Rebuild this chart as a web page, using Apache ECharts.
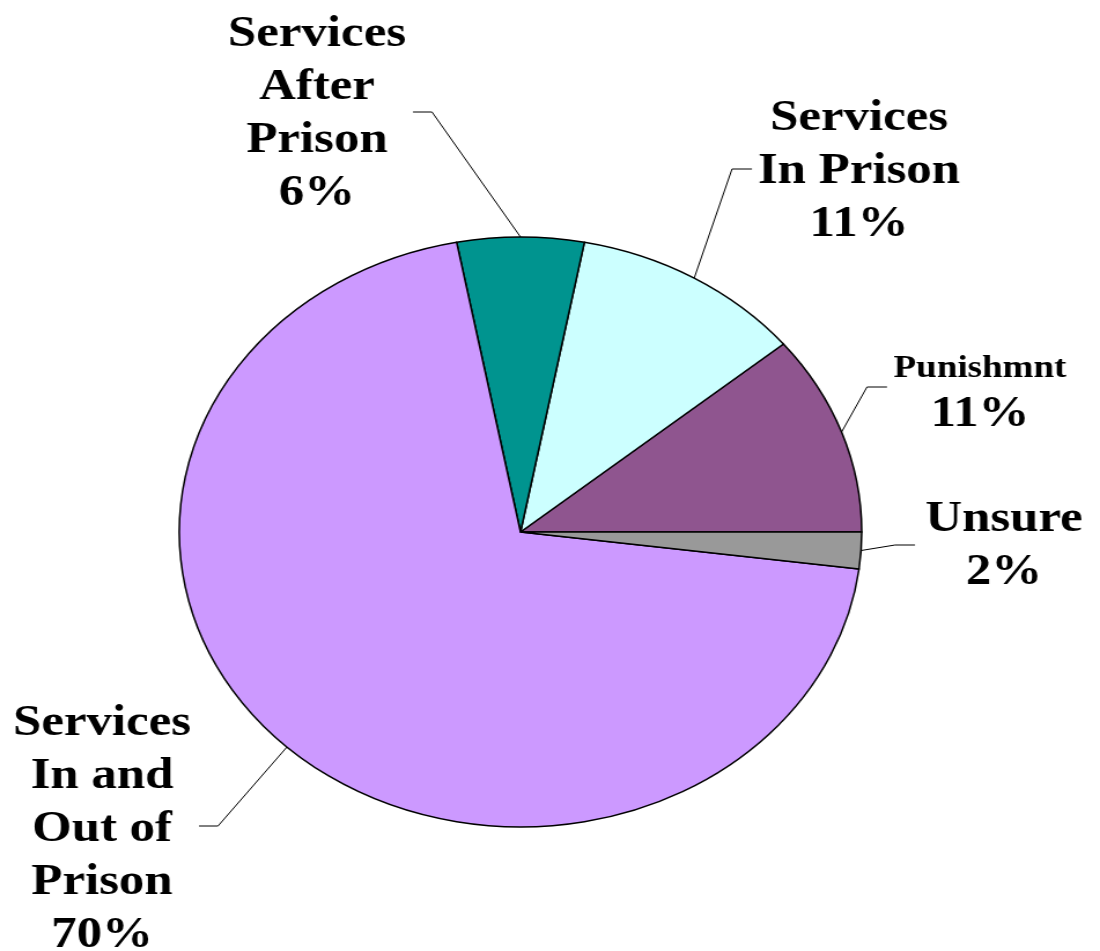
<!DOCTYPE html>
<html>
<head>
<meta charset="utf-8">
<script src="https://cdn.jsdelivr.net/npm/echarts@6/dist/echarts.min.js"></script>
<style>
    html, body { margin: 0; padding: 0; background: #fff; overflow: hidden; }
    /* the picture is a square chart stretched wide, so draw it square and stretch it */
    #pie-chart { width: 951px; height: 951px; transform: scaleX(1.156677); transform-origin: 0 0; }
</style>
</head>
<body>
<div id="pie-chart"></div>
<script>
const categories = ['Punishmnt', 'Services\nIn Prison', 'Services\nAfter\nPrison', 'Services\nIn and\nOut of\nPrison', 'Unsure'];
const values = [11, 11, 6, 70, 2];
const sliceColors = ['#8f558f', '#ccffff', '#00948f', '#cc99ff', '#999999'];

// leader line elbow / end and label centre, read in page px (stretched)
const SX = 1100 / 951;
const labelGuides = [
    { elbow: [867, 387], end: [887, 387], center: [980, 395] },
    { elbow: [732, 169], end: [752, 169], center: [859, 172] },
    { elbow: [432, 112], end: [413, 112], center: [317, 114] },
    { elbow: [218, 826], end: [199, 826], center: [102, 830] },
    { elbow: [895, 545], end: [915, 545], center: [1004, 546] }
];
const u = p => [p[0] / SX, p[1]];

const option_pie = (data) => { return {
    backgroundColor: '#fff',
    animation: false,
    series: [
        {
            name: 'Responses',
            type: 'pie',
            center: [450, 532],
            radius: 295,
            startAngle: 0,
            clockwise: false,//Excel draws counter-clockwise here
            itemStyle: {
                borderColor: '#000',
                borderWidth: 1.5
            },
            emphasis: { disabled: true },
            label: {
                show: true,
                position: 'outside',
                color: '#000',
                fontFamily: '"Liberation Serif", "Times New Roman", serif',
                fontWeight: 'bold',
                fontSize: 44,
                lineHeight: 53,
                align: 'center',
                formatter: p => p.dataIndex === 0 ? '{s|' + p.name + '}\n' + p.percent + '%' : p.name + '\n' + p.percent + '%',
                rich: {
                    s: {
                        fontFamily: '"Liberation Serif", "Times New Roman", serif',
                        fontWeight: 'bold',
                        fontSize: 32,
                        lineHeight: 40,
                        color: '#000'
                    }
                }
            },
            labelLine: {
                show: true,
                length: 20,
                length2: 20,
                lineStyle: { color: '#000', width: 1 }
            },
            labelLayout: params => {
                const g = labelGuides[params.dataIndex];
                const c = u(g.center);
                return {
                    x: c[0],
                    y: c[1],
                    align: 'center',
                    verticalAlign: 'middle',
                    labelLinePoints: [params.labelLinePoints[0], u(g.elbow), u(g.end)]
                };
            },
            data: data
        }
    ]
};};

const myChart = echarts.init(document.getElementById('pie-chart'));
const pieData = [];
for (let i = 0; i < categories.length; i++) {
    pieData.push({ name: categories[i], value: values[i], itemStyle: { color: sliceColors[i] } });
}
myChart.setOption(option_pie(pieData));
</script>
</body>
</html>
